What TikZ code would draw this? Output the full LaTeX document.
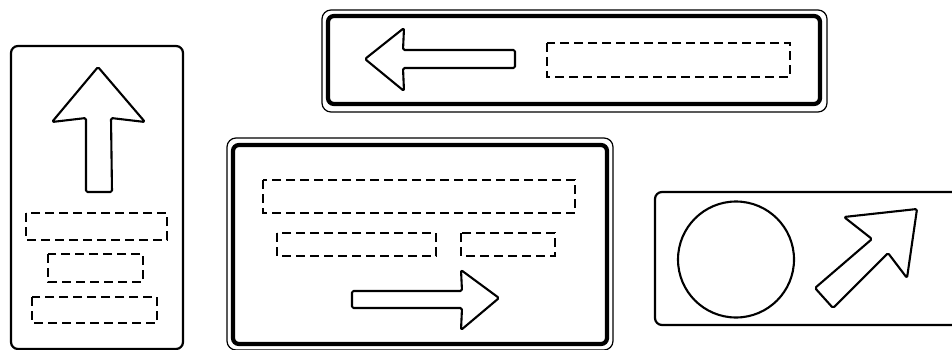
\documentclass[tikz,border=0pt]{standalone}
\usepackage{tikz}
\usetikzlibrary{positioning, calc}
\tikzset{
  signplate/.style={draw=black, line width=2.2pt, rounded corners=7pt, fill=white},
  signouter/.style={draw=black, line width=1.2pt, rounded corners=9pt, fill=white},
  signinner/.style={draw=black, line width=4.2pt, rounded corners=6pt},
  textfield/.style={draw=black, line width=1.1pt, dash pattern=on 9pt off 5pt},
  signarrow/.style={draw=black, line width=2.1pt, line join=round, rounded corners=1.5pt, fill=white},
}

\begin{document}
\begin{tikzpicture}[x=1pt, y=-1pt]
  \useasboundingbox (0,0) rectangle (952,350);
  % Schild links (hochkant)
  \draw[signplate] (11,46) rectangle (183,349);
  \draw[signarrow] (98,67) -- (145,122) -- (111,118) -- (112,192) -- (86,192) -- (86,118) -- (52,122) -- cycle;
  \draw[textfield] (26,213) rectangle (167,240);
  \draw[textfield] (48,254) rectangle (143,282);
  \draw[textfield] (32,297) rectangle (157,323);
  % Schild oben
  \draw[signouter] (322,10) rectangle (827,112);
  \draw[signinner] (328,16) rectangle (820,104);
  \draw[signarrow] (365,59) -- (404,28) -- (403,50) -- (515,50) -- (515,68) -- (403,68) -- (404,91) -- cycle;
  \draw[textfield] (547,43) rectangle (790,77);
  % Schild Mitte
  \draw[signouter] (227,138) rectangle (613,350);
  \draw[signinner] (233,145) rectangle (607,344);
  \draw[textfield] (263,180) rectangle (575,213);
  \draw[textfield] (277,233) rectangle (436,256);
  \draw[textfield] (461,233) rectangle (555,256);
  \draw[signarrow] (499,298) -- (461,330) -- (462,308) -- (352,308) -- (352,291) -- (462,291) -- (461,270) -- cycle;
  % Schild rechts
  \draw[signplate] (655,192) rectangle (975,325);
  \draw[line width=2.1pt] (736,259.5) circle[radius=58];
  \draw[signarrow] (917,209) -- (907,278) -- (888,253) -- (833,308) -- (815,288) -- (872,239) -- (844,217) -- cycle;
\end{tikzpicture}
\end{document}
